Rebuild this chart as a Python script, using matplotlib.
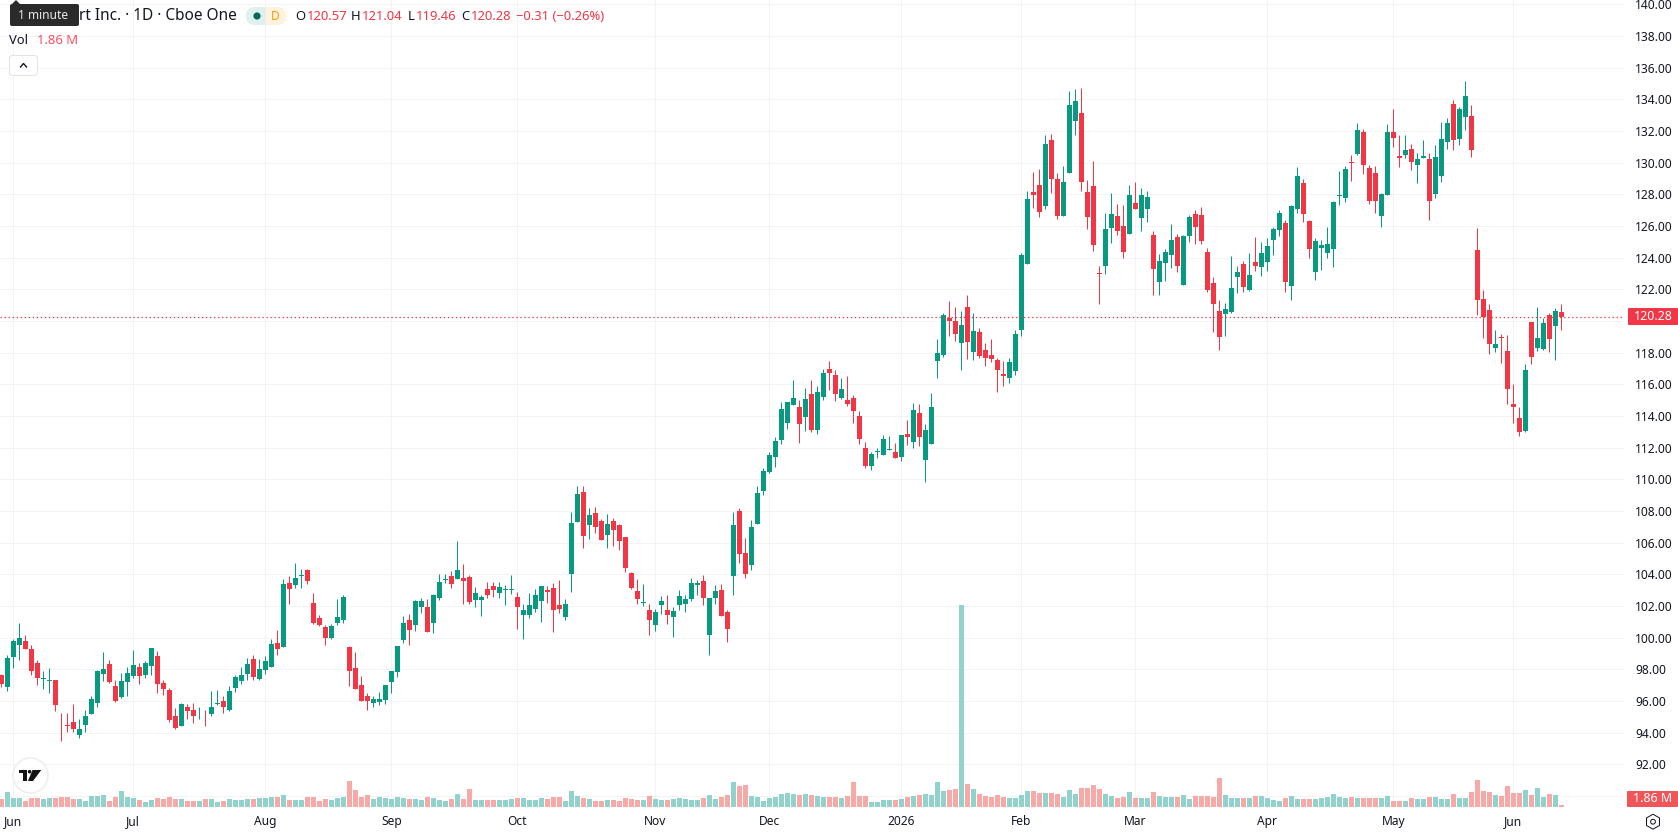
import matplotlib
matplotlib.use('Agg')
from matplotlib import pyplot as plt
from matplotlib.patches import Circle, Polygon, Rectangle, RegularPolygon, FancyBboxPatch

WIDTH, HEIGHT = 1678, 835
PANE_RIGHT, PANE_BOTTOM = 1624, 808
UP, DOWN = '#089981', '#F23645'
VOL_UP, VOL_DOWN = '#92D2CC', '#F7A9A7'
GRID = '#F3F3F3'
INK = '#131722'

opens = [
    97.62, 96.86, 98.76, 99.51, 99.77, 99.26, 98.38, 97.36, 97.24, 97.30,
    94.89, 94.51, 94.70, 93.88, 94.51, 95.15, 95.84, 97.68, 98.31, 96.92,
    96.22, 97.17, 97.55, 98.12, 97.62, 98.19, 98.82, 97.11, 96.67, 95.02,
    94.45, 95.59, 95.40, 95.02, 95.08, 95.15, 95.78, 95.97, 95.46, 96.79,
    97.24, 97.68, 98.63, 97.36, 97.93, 98.12, 99.64, 99.39, 103.44, 103.31,
    103.88, 104.26, 102.17, 101.22, 100.65, 99.96, 100.91, 101.10, 99.39, 98.06,
    96.98, 96.29, 95.84, 95.91, 96.03, 97.17, 97.81, 99.84, 101.11, 100.79,
    101.93, 101.93, 100.92, 102.50, 103.64, 103.89, 103.70, 103.77, 103.83, 102.38,
    102.38, 103.07, 103.26, 102.82, 103.01, 103.01, 102.57, 101.43, 101.43, 101.81,
    102.31, 103.01, 103.13, 102.06, 101.30, 104.02, 107.31, 109.21, 107.12, 107.88,
    107.38, 106.49, 107.38, 107.12, 106.36, 104.08, 102.94, 102.19, 101.74, 100.79,
    102.06, 101.74, 101.30, 102.06, 102.12, 102.44, 103.32, 103.58, 100.16, 102.50,
    103.01, 101.62, 103.89, 108.01, 105.35, 104.59, 107.15, 109.24, 110.44, 111.39,
    112.46, 113.54, 114.68, 114.55, 113.92, 115.38, 113.10, 115.19, 116.96, 116.58,
    115.12, 115.00, 115.12, 113.98, 111.96, 110.82, 111.70, 111.51, 111.83, 111.70,
    111.39, 112.84, 112.34, 114.17, 111.20, 112.21, 117.49, 117.87, 120.21, 120.02,
    118.63, 120.91, 118.06, 119.32, 118.19, 117.87, 117.55, 116.67, 116.41, 116.86,
    119.45, 123.59, 128.15, 128.59, 127.26, 131.44, 128.97, 126.63, 129.35, 132.64,
    133.15, 128.15, 128.53, 123.02, 123.46, 125.87, 126.63, 126.00, 125.49, 127.45,
    126.50, 127.07, 125.43, 122.45, 123.65, 124.16, 125.30, 122.26, 125.36, 126.76,
    126.69, 124.35, 122.39, 120.62, 120.43, 120.55, 122.77, 123.59, 121.94, 123.72,
    123.40, 123.72, 125.11, 125.74, 126.19, 122.20, 127.07, 128.72, 126.31, 123.08,
    124.60, 124.29, 124.54, 127.89, 127.77, 130.02, 130.53, 131.92, 129.64, 129.32,
    126.60, 127.93, 131.92, 130.40, 130.46, 130.84, 129.83, 130.27, 130.21, 128.00,
    129.13, 131.29, 133.69, 131.48, 132.87, 132.93, 124.45, 121.41, 120.72, 118.31,
    119.01, 118.12, 114.77, 113.88, 113.06, 119.96, 118.31, 118.25, 120.40, 119.70, 120.57,
]
highs = [
    97.72, 98.92, 99.89, 100.91, 100.15, 99.56, 98.57, 97.87, 98.06, 97.30,
    95.27, 95.27, 95.78, 94.83, 95.46, 96.29, 97.93, 99.07, 98.57, 97.30,
    97.74, 98.12, 99.20, 98.38, 98.50, 99.32, 99.13, 97.30, 96.79, 95.53,
    95.84, 95.78, 95.84, 95.59, 95.46, 96.60, 96.67, 96.29, 96.92, 97.62,
    98.12, 98.69, 98.88, 98.63, 98.82, 99.89, 100.46, 103.69, 103.88, 104.71,
    104.33, 104.33, 102.81, 101.41, 100.78, 100.84, 102.43, 102.68, 99.45, 99.07,
    97.55, 96.48, 96.29, 96.54, 96.98, 97.87, 99.45, 101.36, 101.49, 102.38,
    102.50, 102.44, 102.76, 104.02, 104.02, 104.21, 106.11, 104.65, 103.94, 103.20,
    102.69, 103.51, 103.51, 103.51, 103.32, 103.96, 102.88, 102.12, 102.82, 103.07,
    103.26, 103.26, 103.45, 103.64, 102.44, 107.95, 109.59, 109.59, 108.20, 108.26,
    107.50, 107.82, 107.57, 107.19, 106.36, 104.15, 103.70, 103.39, 102.12, 101.81,
    102.63, 102.69, 101.93, 103.01, 102.69, 103.77, 103.64, 103.96, 102.50, 103.32,
    103.39, 101.74, 107.95, 108.20, 106.30, 107.44, 109.55, 110.69, 111.75, 112.65,
    114.87, 114.87, 116.26, 115.00, 115.76, 116.26, 115.88, 116.96, 117.46, 116.90,
    116.39, 116.52, 115.31, 114.30, 112.34, 111.70, 111.96, 112.78, 112.72, 112.27,
    112.78, 113.73, 114.81, 114.74, 113.48, 115.44, 118.88, 120.53, 121.29, 120.91,
    120.65, 121.67, 120.53, 119.58, 118.63, 118.88, 117.68, 117.49, 117.68, 119.45,
    124.26, 128.21, 129.41, 129.60, 131.76, 131.82, 129.35, 129.79, 134.54, 134.67,
    134.73, 128.91, 130.11, 123.46, 126.82, 128.08, 127.39, 127.32, 128.59, 128.78,
    128.40, 128.21, 125.68, 124.22, 124.54, 126.12, 125.49, 125.43, 126.69, 127.01,
    127.20, 124.60, 122.77, 121.31, 121.12, 124.10, 123.46, 123.78, 124.29, 125.30,
    124.98, 125.24, 125.93, 127.01, 126.38, 127.32, 129.73, 128.97, 126.40, 125.24,
    125.11, 125.93, 127.58, 129.48, 129.79, 130.46, 132.49, 132.11, 129.83, 129.77,
    128.06, 132.43, 133.38, 131.73, 131.73, 131.16, 130.59, 131.41, 130.59, 131.10,
    132.55, 132.81, 133.95, 133.50, 135.15, 133.63, 125.84, 121.98, 121.10, 119.45,
    119.20, 119.13, 116.03, 114.58, 117.30, 119.96, 120.91, 120.21, 120.53, 120.84, 121.04,
]
lows = [
    96.88, 96.60, 98.06, 98.57, 99.26, 97.62, 96.98, 96.73, 96.48, 95.34,
    93.44, 94.01, 94.07, 93.63, 94.07, 95.15, 95.65, 97.24, 97.11, 95.91,
    96.16, 96.29, 97.43, 97.05, 97.43, 97.62, 96.48, 96.35, 94.70, 94.20,
    94.39, 94.89, 94.58, 94.89, 94.39, 95.08, 95.72, 95.27, 95.34, 96.54,
    97.05, 97.30, 97.30, 97.30, 97.68, 98.12, 98.88, 99.39, 102.11, 103.12,
    103.12, 103.38, 100.84, 100.72, 99.51, 99.89, 100.78, 100.91, 96.92, 96.73,
    95.97, 95.40, 95.59, 95.72, 95.78, 96.48, 97.49, 99.65, 99.53, 100.41,
    101.55, 100.35, 100.29, 102.38, 103.43, 103.13, 103.70, 102.12, 102.12, 101.93,
    101.36, 102.50, 102.57, 102.50, 102.06, 102.76, 100.54, 99.91, 101.24, 101.62,
    100.98, 102.19, 100.35, 101.55, 101.11, 102.88, 107.31, 105.67, 106.24, 106.62,
    106.17, 105.67, 105.79, 105.54, 104.15, 103.07, 102.12, 102.00, 100.16, 100.41,
    101.49, 100.86, 100.03, 101.74, 101.62, 102.31, 102.69, 102.06, 98.89, 102.12,
    101.36, 99.72, 102.69, 104.72, 103.77, 104.27, 107.15, 108.98, 110.38, 110.76,
    112.21, 113.16, 114.68, 112.27, 113.03, 112.97, 112.84, 115.00, 115.63, 114.93,
    115.06, 114.62, 113.54, 112.21, 110.69, 110.57, 111.32, 111.51, 111.83, 111.32,
    111.13, 112.15, 111.96, 112.08, 109.81, 112.21, 116.41, 117.74, 119.07, 118.76,
    116.92, 117.62, 117.55, 117.68, 117.17, 117.43, 115.53, 115.91, 116.10, 116.60,
    119.07, 123.59, 127.13, 126.57, 127.07, 128.08, 126.44, 126.63, 129.35, 131.76,
    128.21, 125.81, 124.41, 121.06, 122.96, 124.92, 125.43, 123.97, 125.49, 127.07,
    125.68, 126.25, 121.63, 121.63, 122.51, 123.34, 123.08, 122.26, 124.98, 124.86,
    124.86, 121.82, 119.29, 118.15, 119.03, 120.49, 121.75, 121.82, 121.88, 123.15,
    122.83, 123.15, 124.16, 125.36, 121.82, 121.31, 126.82, 126.25, 123.97, 122.58,
    123.21, 123.97, 123.40, 127.32, 127.51, 128.82, 130.46, 129.26, 127.36, 126.79,
    125.91, 127.93, 130.97, 129.70, 130.27, 129.51, 128.69, 130.27, 126.35, 127.74,
    128.76, 130.84, 130.78, 131.10, 132.05, 130.34, 120.40, 118.95, 117.93, 118.06,
    117.36, 114.77, 113.56, 112.74, 112.99, 117.30, 118.12, 118.19, 118.06, 117.55, 119.46,
]
closes = [
    97.05, 98.69, 99.77, 99.96, 99.26, 97.87, 97.43, 97.43, 97.30, 95.72,
    94.83, 94.39, 94.20, 94.26, 95.08, 96.10, 97.87, 98.00, 97.17, 95.97,
    97.24, 97.74, 98.25, 97.55, 98.38, 99.32, 97.05, 96.73, 94.77, 94.32,
    95.78, 95.34, 95.08, 95.08, 95.02, 95.65, 95.84, 95.59, 96.60, 97.49,
    97.62, 98.31, 97.49, 98.00, 98.50, 99.58, 99.26, 103.38, 103.06, 103.76,
    103.95, 103.57, 100.91, 100.78, 99.96, 100.72, 101.29, 102.55, 97.87, 96.73,
    95.97, 95.97, 96.10, 96.10, 96.98, 97.87, 99.45, 100.92, 100.48, 102.31,
    102.31, 100.35, 102.69, 103.51, 103.70, 103.39, 104.27, 103.58, 102.25, 102.82,
    102.57, 102.69, 103.01, 103.20, 103.07, 103.07, 101.93, 101.74, 102.06, 102.69,
    103.26, 102.88, 101.74, 101.81, 102.12, 107.25, 109.09, 106.43, 107.76, 107.00,
    106.17, 107.19, 106.81, 106.11, 104.40, 103.13, 102.44, 102.25, 101.11, 101.62,
    102.31, 101.43, 101.68, 102.63, 102.44, 103.45, 103.45, 102.50, 102.50, 102.94,
    101.36, 100.54, 107.12, 105.29, 104.02, 107.00, 109.11, 110.50, 111.51, 112.40,
    114.43, 114.87, 115.12, 113.48, 115.06, 113.10, 115.50, 116.71, 116.71, 115.38,
    115.69, 114.74, 114.30, 112.53, 110.82, 111.58, 111.77, 112.53, 111.89, 111.32,
    112.78, 112.65, 114.36, 112.65, 113.10, 114.55, 118.00, 120.40, 120.02, 119.20,
    119.77, 118.69, 119.39, 117.81, 117.68, 117.62, 116.92, 116.54, 117.43, 119.20,
    124.14, 127.70, 127.96, 126.88, 131.19, 128.97, 126.63, 128.78, 133.65, 133.91,
    128.78, 126.57, 124.79, 122.96, 125.81, 126.76, 125.68, 124.35, 127.96, 127.07,
    127.96, 127.83, 123.27, 123.78, 124.35, 125.11, 123.46, 125.36, 126.57, 125.93,
    125.05, 121.94, 121.06, 118.97, 120.74, 122.07, 123.08, 122.13, 122.89, 123.46,
    124.29, 124.73, 125.81, 126.82, 122.45, 127.26, 129.16, 126.76, 124.54, 125.05,
    124.79, 124.86, 127.51, 127.96, 129.60, 129.96, 132.05, 129.83, 127.55, 127.55,
    128.00, 131.92, 131.54, 130.27, 130.78, 130.02, 130.21, 130.40, 127.55, 130.34,
    131.48, 132.49, 131.41, 133.38, 134.20, 130.78, 121.35, 120.27, 118.57, 118.57,
    118.95, 115.72, 114.58, 112.99, 116.92, 117.74, 118.95, 119.89, 118.88, 120.65, 120.28,
]
# volume in millions of shares
volumes = [
    7.4, 14.0, 8.4, 8.4, 5.6, 8.4, 8.4, 7.4, 8.4, 8.4,
    9.3, 9.3, 7.4, 7.4, 5.6, 10.2, 10.2, 11.2, 5.6, 9.3,
    14.9, 9.3, 8.4, 6.5, 4.7, 6.5, 8.4, 7.4, 9.3, 7.4,
    7.4, 5.6, 5.6, 5.6, 7.4, 7.4, 4.7, 5.6, 7.4, 6.5,
    6.5, 7.4, 7.4, 8.4, 8.4, 9.3, 9.3, 11.2, 6.5, 6.5,
    6.5, 9.3, 9.3, 5.6, 7.4, 6.5, 8.4, 9.3, 24.2, 15.8,
    9.3, 11.2, 7.4, 9.3, 8.4, 7.4, 9.3, 8.4, 7.4, 7.4,
    6.5, 9.3, 8.4, 6.5, 5.6, 7.4, 12.1, 7.4, 16.7, 6.5,
    6.5, 6.5, 6.5, 6.5, 6.5, 7.4, 8.4, 8.4, 6.5, 6.5,
    8.4, 7.4, 9.3, 9.3, 5.6, 14.9, 10.2, 8.4, 7.4, 5.6,
    5.6, 6.5, 6.5, 5.6, 8.4, 7.4, 6.5, 6.5, 10.2, 7.4,
    6.5, 6.5, 7.4, 8.4, 7.4, 6.5, 6.5, 8.4, 11.2, 7.4,
    9.3, 11.2, 23.3, 19.5, 20.5, 10.2, 9.3, 5.6, 8.4, 9.3,
    12.1, 13.0, 12.1, 11.2, 12.1, 11.2, 10.2, 9.3, 9.3, 9.3,
    8.4, 10.2, 23.3, 10.2, 10.2, 4.7, 4.7, 6.5, 6.5, 6.5,
    7.4, 9.3, 10.2, 11.2, 12.1, 11.2, 23.3, 14.9, 15.8, 16.7,
    187.9, 21.4, 16.7, 12.1, 10.2, 9.3, 11.2, 9.3, 8.4, 8.4,
    11.2, 14.9, 14.9, 13.0, 13.0, 13.0, 12.1, 9.3, 15.8, 12.1,
    17.7, 17.7, 20.5, 16.7, 12.1, 10.2, 8.4, 9.3, 14.0, 8.4,
    8.4, 8.4, 14.0, 10.2, 9.3, 9.3, 9.3, 11.2, 7.4, 10.2,
    10.2, 10.2, 9.3, 27.0, 11.2, 8.4, 8.4, 8.4, 8.4, 10.2,
    10.2, 8.4, 6.5, 5.6, 8.4, 10.2, 7.4, 7.4, 7.4, 7.4,
    8.4, 9.3, 12.1, 9.3, 8.4, 9.3, 8.4, 8.4, 8.4, 8.4,
    8.4, 10.2, 5.6, 5.6, 5.6, 8.4, 7.4, 7.4, 9.3, 9.3,
    7.4, 7.4, 12.1, 8.4, 8.4, 14.0, 25.1, 14.9, 14.0, 11.2,
    10.2, 19.5, 13.0, 13.0, 15.8, 11.2, 17.7, 9.3, 12.1, 11.2, 1.86,
]
month_bars = [2, 22, 44, 65, 86, 109, 128, 150, 170, 189, 211, 232, 252]
month_labels = ['Jun', 'Jul', 'Aug', 'Sep', 'Oct', 'Nov', 'Dec', '2026',
                'Feb', 'Mar', 'Apr', 'May', 'Jun']
price_ticks = list(range(90, 142, 2))
last_close = 120.28

plt.rcParams['font.family'] = ['Noto Sans', 'DejaVu Sans']

fig = plt.figure(figsize=(WIDTH / 100, HEIGHT / 100), dpi=100, facecolor='white')
rect = [0, 1 - PANE_BOTTOM / HEIGHT, PANE_RIGHT / WIDTH, PANE_BOTTOM / HEIGHT]
ax = fig.add_axes(rect, zorder=1)
px = 0.72  # one pixel in points

for spine in ax.spines.values():
    spine.set_visible(False)
ax.set_xlim(-0.222, 270.44)
ax.set_ylim(89.24, 140.27)

bars = range(len(closes))
colors = [UP if c >= o else DOWN for o, c in zip(opens, closes)]
ax.vlines(bars, lows, highs, colors=colors, linewidth=px, zorder=3)
ax.bar(bars, [abs(c - o) for o, c in zip(opens, closes)],
       bottom=[min(o, c) for o, c in zip(opens, closes)],
       width=5 / 6, color=colors, linewidth=0, zorder=4)
ax.axhline(last_close, color=DOWN, linewidth=1.3 * px, linestyle=(0, (1, 2.1)), zorder=5)

# volume pane shares the time axis, bars stay at the bottom
vol_ax = ax.twinx()
vol_ax.set_zorder(2)
vol_ax.patch.set_visible(False)
for spine in vol_ax.spines.values():
    spine.set_visible(False)
vol_ax.set_ylim(-0.93, 750.5)
vol_ax.yaxis.set_visible(False)
vol_colors = [VOL_UP if c >= o else VOL_DOWN for o, c in zip(opens, closes)]
vol_ax.bar(bars, volumes, width=5 / 6, color=vol_colors, linewidth=0)

# price axis, twinx moves it to the left so it is set up afterwards
ax.yaxis.tick_right()
ax.set_yticks(price_ticks)
ax.set_yticklabels(['' if p in (90, 120) else f'{p:.2f}' for p in price_ticks],
                   fontsize=12 * px, color=INK, ha='left')
ax.tick_params(axis='y', length=0, pad=11 * px)

# time axis
ax.set_xticks(month_bars)
ax.set_xticklabels(month_labels, fontsize=12 * px, color=INK)
ax.tick_params(axis='x', length=0, pad=7 * px)
ax.get_xticklabels()[7].set_fontweight('bold')

ax.grid(True, color=GRID, linewidth=px)
ax.set_axisbelow(True)

# header, badges and buttons are laid out in pixels on top of the panes
ui = fig.add_axes([0, 0, 1, 1], zorder=3)
ui.set_xlim(0, WIDTH)
ui.set_ylim(HEIGHT, 0)
ui.axis('off')


def label(x, y, text, size=12, color=INK, ha='left', weight='normal'):
    ui.text(x, y, text, fontsize=size * px, color=color, ha=ha, va='center', fontweight=weight)


label(79, 16, 'rt Inc. · 1D · Cboe One', size=15.4)

# interval tooltip
ui.add_patch(FancyBboxPatch((10, 4), 69, 22, boxstyle='round,pad=0,rounding_size=2',
                            facecolor='#2A2A2A', edgecolor='none'))
ui.add_patch(Polygon([(12, 4), (16, 0), (20, 4)], closed=True, facecolor='#2A2A2A', edgecolor='none'))
label(43.5, 15.5, '1 minute', size=12, color='#E8E8E8', ha='center')

# market status pill, teal half and orange half
pill = FancyBboxPatch((246, 7), 39.7, 18, boxstyle='round,pad=0,rounding_size=8.9',
                      facecolor='#DFF1EE', edgecolor='none')
ui.add_patch(pill)
orange = Rectangle((266, 7), 20, 18, facecolor='#FFF3E0', edgecolor='none')
ui.add_patch(orange)
orange.set_clip_path(pill)
ui.add_patch(Circle((257, 16), 3.6, facecolor='#00695C', edgecolor='none'))
label(275, 16, 'D', size=12, color='#FF9800', ha='center', weight='bold')

# last bar readout
for x_key, x_val, key, val in [(295, 306.5, 'O', '120.57'), (351, 362, 'H', '121.04'),
                               (408, 415.5, 'L', '119.46'), (461, 470.6, 'C', '120.28')]:
    label(x_key, 16.5, key, size=13)
    label(x_val, 16.5, val, size=13, color=DOWN)
label(516, 16.5, '−0.31 (−0.26%)', size=13, color=DOWN)

label(9, 40.5, 'Vol', size=13)
label(37, 40.5, '1.86 M', size=13, color='#F7525F')

# collapse button
ui.add_patch(FancyBboxPatch((9.5, 55.5), 28, 20, boxstyle='round,pad=0,rounding_size=3',
                            facecolor='white', edgecolor='#E0E3EB', linewidth=px))
ui.plot([20.5, 23.5, 26.5], [67, 63.5, 67], color=INK, linewidth=1.4 * px)

# logo
ui.add_patch(Circle((30.5, 775.5), 17.5, facecolor='white', edgecolor='#EDEDED', linewidth=1.5 * px))
ui.add_patch(Polygon([(18.7, 770), (27, 770), (27, 781), (22.7, 781), (22.7, 773.4), (18.7, 773.4)],
                     closed=True, facecolor='#131313', edgecolor='none'))
ui.add_patch(Circle((29.6, 771.7), 1.8, facecolor='#131313', edgecolor='none'))
ui.add_patch(Polygon([(32.5, 770), (41.3, 770), (33, 781), (28, 781)],
                     closed=True, facecolor='#131313', edgecolor='none'))

# last price and last volume tags on the scale
ui.add_patch(FancyBboxPatch((1628, 308), 50, 17, boxstyle='round,pad=0,rounding_size=1',
                            facecolor=DOWN, edgecolor='none'))
label(1672.5, 316.5, '120.28', size=12.5, color='white', ha='right')
ui.add_patch(FancyBboxPatch((1627, 791), 51, 16, boxstyle='round,pad=0,rounding_size=1',
                            facecolor='#F0555A', edgecolor='none'))
label(1672.5, 799, '1.86 M', size=12.5, color='white', ha='right')

# settings icon
ui.add_patch(RegularPolygon((1653, 821.7), 6, radius=7.5, facecolor='white', edgecolor=INK, linewidth=px))
ui.add_patch(Circle((1653, 821.7), 2.4, facecolor='white', edgecolor=INK, linewidth=px))

fig.savefig('out.png', dpi=100)
